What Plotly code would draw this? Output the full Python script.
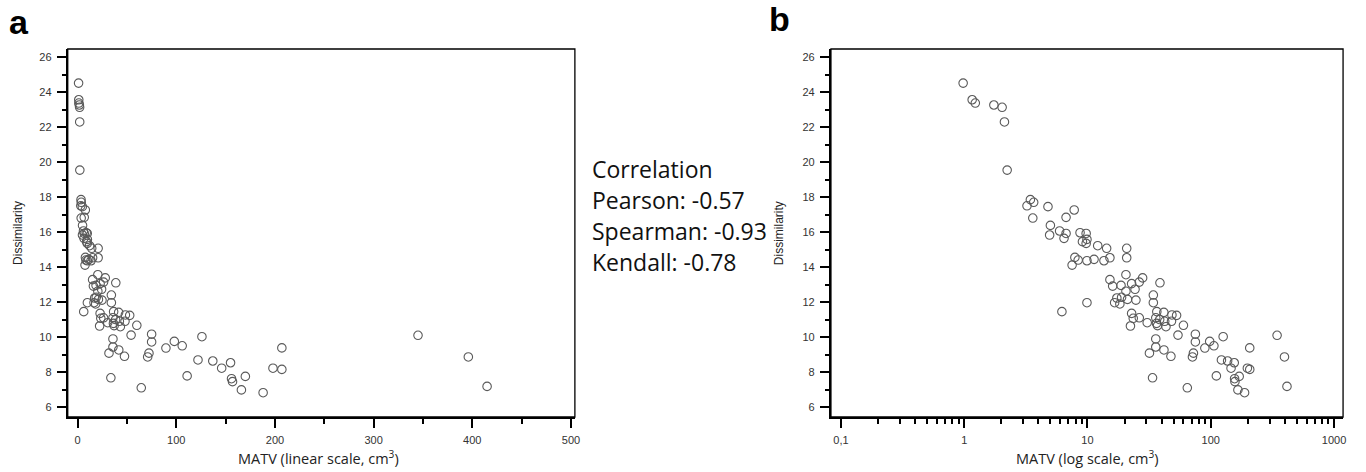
import plotly.graph_objects as go

# MATV (cm^3) and dissimilarity values
matv = [0.98, 1.16, 1.23, 1.74, 2.03, 2.12, 2.23, 3.23, 3.44, 3.66, 3.6, 4.78,
        7.8, 6.7, 5.0, 4.93, 5.94, 6.7, 6.45, 8.7, 9.75, 9.9, 9.1, 9.75,
        12.1, 14.3, 20.8, 20.8, 7.9, 8.4, 7.5, 9.9, 11.3, 13.6, 15.2,
        20.5, 15.2, 16.0, 18.7, 22.8, 28.0, 26.3, 38.7, 20.5, 24.3,
        17.3, 18.9, 21.1, 24.7, 16.6, 18.3, 9.9, 6.2, 34.2, 34.2,
        22.8, 23.5, 26.3, 22.3, 30.5, 36.5, 41.6, 35.8, 38.5, 36.3, 37.0,
        43.3, 42.3, 48.4, 52.8, 48.0, 60.0, 54.2, 75.0, 75.0,
        35.8, 35.8, 41.7, 31.8, 47.5, 72.3, 71.0, 89.5, 98.0, 106.0, 126.0,
        33.7, 64.5, 111.0, 122.0, 137.0, 146.0, 155.0, 156.0, 157.0, 170.0,
        166.0, 188.0, 198.0, 207.0, 207.0, 345.0, 396.0, 415.0]
dissimilarity = [24.51, 23.56, 23.37, 23.26, 23.13, 22.29, 19.54, 17.5, 17.85, 17.7, 16.8, 17.45,
                 17.26, 16.84, 16.38, 15.83, 16.06, 15.92, 15.64, 15.96, 15.92, 15.58, 15.45, 15.35,
                 15.22, 15.07, 15.07, 14.53, 14.55, 14.4, 14.11, 14.36, 14.44, 14.36, 14.53,
                 13.56, 13.28, 12.91, 12.95, 13.05, 13.38, 13.14, 13.1, 12.62, 12.73,
                 12.23, 12.27, 12.15, 12.11, 11.96, 11.89, 11.96, 11.45, 12.4, 11.96,
                 11.35, 11.07, 11.1, 10.63, 10.82, 11.45, 11.41, 11.1, 11.0, 10.78, 10.65,
                 10.59, 10.9, 11.26, 11.24, 10.9, 10.67, 10.11, 10.16, 9.72,
                 9.89, 9.43, 9.26, 9.08, 8.9, 9.08, 8.86, 9.37, 9.75, 9.5, 10.02,
                 7.67, 7.1, 7.78, 8.69, 8.63, 8.22, 8.53, 7.62, 7.45, 7.75,
                 6.98, 6.82, 8.22, 9.38, 8.15, 10.1, 8.86, 7.18]

y_ticks = [6, 8, 10, 12, 14, 16, 18, 20, 22, 24, 26]
lin_ticks = [0, 100, 200, 300, 400, 500]
log_ticks = [0.1, 1, 10, 100, 1000]
log_ticktext = ["0,1", "1", "10", "100", "1000"]
corr_lines = ["Correlation", "Pearson: -0.57", "Spearman: -0.93", "Kendall: -0.78"]

W, H = 1366, 472
def px(x):
    return x / W
def py(y):
    return 1 - y / H

marker = dict(symbol="circle-open", size=8.5, color="#5a5a5a", line=dict(width=1.1, color="#5a5a5a"))

fig = go.Figure()
fig.add_trace(go.Scatter(x=matv, y=dissimilarity, mode="markers", marker=marker,
                         xaxis="x", yaxis="y", showlegend=False, hoverinfo="x+y"))
fig.add_trace(go.Scatter(x=matv, y=dissimilarity, mode="markers", marker=marker,
                         xaxis="x2", yaxis="y2", showlegend=False, hoverinfo="x+y"))

tickfont = dict(family="Liberation Sans, Arial", size=11, color="#333")
ax_common = dict(showline=True, linecolor="black", linewidth=2, ticks="outside",
                 ticklen=9, tickwidth=2, tickcolor="black", showgrid=False, zeroline=False,
                 tickfont=tickfont, ticklabelstandoff=3, fixedrange=True)

ydom = [py(417), py(49)]
yaxis_cfg = dict(ax_common, range=[5.43, 26.46], tickmode="array", tickvals=y_ticks,
                 minor=dict(ticks="outside", ticklen=4, tickwidth=1.5, tickcolor="black", dtick=1, tick0=0))

fig.update_layout(
    width=W, height=H, margin=dict(l=0, r=0, t=0, b=0),
    paper_bgcolor="white", plot_bgcolor="white",
    xaxis=dict(ax_common, domain=[px(68), px(577)], range=[-10, 504], anchor="y",
               tickmode="array", tickvals=lin_ticks,
               minor=dict(ticks="outside", ticklen=5, tickwidth=1.5, tickcolor="black", dtick=50, tick0=0)),
    yaxis=dict(yaxis_cfg, domain=ydom, anchor="x"),
    xaxis2=dict(ax_common, domain=[px(834), px(1348)], type="log", range=[-1.081, 3.073], anchor="y2",
                tickmode="array", tickvals=log_ticks, ticktext=log_ticktext,
                minor=dict(ticks="outside", ticklen=5, tickwidth=1.5, tickcolor="black",
                           tickmode="array",
                           tickvals=[k * 10 ** n for n in range(-1, 3) for k in range(2, 10)])),
    yaxis2=dict(yaxis_cfg, domain=ydom, anchor="x2"),
)

# thin frame top/right
for xr, yr in (("x domain", "y domain"), ("x2 domain", "y2 domain")):
    fig.add_shape(type="rect", xref=xr, yref=yr, x0=0, x1=1, y0=0, y1=1,
                  line=dict(color="black", width=1.3), layer="above")

title_font = dict(family="Open Sans", size=14.5, color="#222")
ann = []
ann.append(dict(x=px(320), y=py(457), text="MATV (linear scale, cm<sup>3</sup>)", font=title_font))
ann.append(dict(x=px(1091), y=py(457), text="MATV (log scale, cm<sup>3</sup>)", font=title_font))
for xx in (18, 782):
    ann.append(dict(x=px(xx), y=py(233), text="Dissimilarity", textangle=-90,
                    font=dict(family="Liberation Sans, Arial", size=12, color="#222")))
ann.append(dict(x=px(19), y=py(22), text="<b>a</b>", font=dict(family="Liberation Sans, Arial", size=34, color="black")))
ann.append(dict(x=px(782), y=py(19), text="<b>b</b>", font=dict(family="Liberation Sans, Arial", size=34, color="black")))
for i, t in enumerate(corr_lines):
    ann.append(dict(x=px(592), y=py(169 + 31 * i), text=t, xanchor="left",
                    font=dict(family="Open Sans", size=23, color="#111")))
for a in ann:
    a.setdefault("xanchor", "center")
    a.update(xref="paper", yref="paper", showarrow=False, yanchor="middle")
    fig.add_annotation(**a)

fig.write_html("out.html", config={"displayModeBar": False},
               post_script="document.body.style.margin='0px';document.body.style.overflow='hidden';")
